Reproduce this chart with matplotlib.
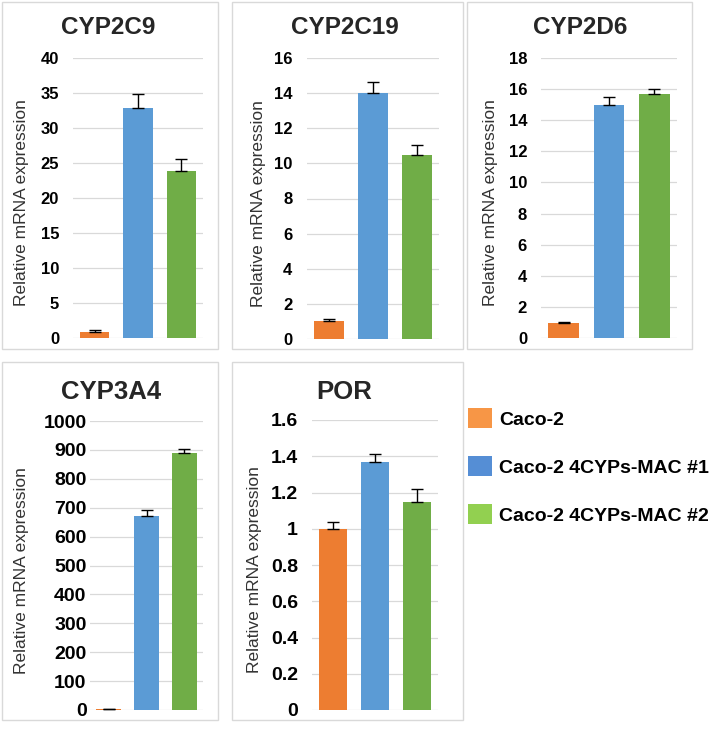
import numpy as np
import matplotlib
matplotlib.use("Agg")
import matplotlib.pyplot as plt
from matplotlib.patches import Rectangle, Patch

plt.rcParams['font.family'] = ['Liberation Sans', 'DejaVu Sans']

W, H = 709, 730

groups = ['Caco-2', 'Caco-2 4CYPs-MAC #1', 'Caco-2 4CYPs-MAC #2']
bar_colors = ['#ED7D31', '#5B9BD5', '#70AD47']
legend_colors = ['#F79646', '#558ED5', '#92D050']

genes = ['CYP2C9', 'CYP2C19', 'CYP2D6', 'CYP3A4', 'POR']
cyp2c9 = [0.85, 32.8, 23.9]
cyp2c9_err = [0.25, 2.1, 1.7]
cyp2c19 = [1.0, 14.0, 10.5]
cyp2c19_err = [0.15, 0.65, 0.55]
cyp2d6 = [0.95, 15.0, 15.7]
cyp2d6_err = [0.05, 0.5, 0.3]
cyp3a4 = [2.0, 670, 890]
cyp3a4_err = [1.0, 23, 12]
por = [1.0, 1.37, 1.15]
por_err = [0.04, 0.04, 0.07]

yticks = {
    'CYP2C9': (np.arange(0, 41, 5), [str(v) for v in range(0, 41, 5)]),
    'CYP2C19': (np.arange(0, 17, 2), [str(v) for v in range(0, 17, 2)]),
    'CYP2D6': (np.arange(0, 19, 2), [str(v) for v in range(0, 19, 2)]),
    'CYP3A4': (np.arange(0, 1001, 100), [str(v) for v in range(0, 1001, 100)]),
    'POR': (np.arange(0, 1.61, 0.2), ['0', '0.2', '0.4', '0.6', '0.8', '1', '1.2', '1.4', '1.6']),
}
values = dict(zip(genes, [cyp2c9, cyp2c19, cyp2d6, cyp3a4, por]))
errors = dict(zip(genes, [cyp2c9_err, cyp2c19_err, cyp2d6_err, cyp3a4_err, por_err]))

# pixel layout: axes (left, right, top, bottom), panel box, title pos, ylabel x,
# tick pad (pt), tick size, title size
layout = {
    'CYP2C9': ((73, 203, 58, 338), (2, 2, 218, 349), (108, 28), 22, 10, 12, 17.5),
    'CYP2C19': ((307, 439, 58, 339), (232, 2, 463, 349), (345, 28), 258, 10.5, 12, 17.5),
    'CYP2D6': ((541, 677, 58, 338), (467, 2, 692, 349), (580, 28), 490, 10, 12, 17.5),
    'CYP3A4': ((90, 203, 421, 710), (2, 362, 218, 720), (111, 392), 22, 2.5, 14, 18.5),
    'POR': ((312, 438, 420, 710), (232, 362, 463, 720), (344, 392), 255, 10, 14, 18.5),
}

fig = plt.figure(figsize=(W / 100, H / 100), dpi=100)

for g in genes:
    (l, r, t, b), (bx0, by0, bx1, by1), (tx, ty), lx, pad, tsize, hsize = layout[g]
    fig.add_artist(Rectangle((bx0 / W, 1 - by1 / H), (bx1 - bx0) / W, (by1 - by0) / H,
                             transform=fig.transFigure, fill=False,
                             edgecolor='#D9D9D9', lw=1))
    ax = fig.add_axes([l / W, 1 - b / H, (r - l) / W, (b - t) / H])
    ticks, labels = yticks[g]
    x = np.arange(len(groups))
    ax.bar(x, values[g], width=0.67, color=bar_colors, zorder=3)
    ax.errorbar(x, values[g], yerr=[[0] * 3, errors[g]], fmt='none',
                ecolor='black', elinewidth=1, capsize=4, capthick=1, zorder=4)
    ax.set_ylim(0, ticks[-1])
    ax.set_xlim(-0.5, 2.5)
    ax.set_yticks(ticks)
    ax.set_yticklabels(labels, fontsize=tsize, fontweight='bold')
    ax.set_xticks([])
    ax.tick_params(axis='y', length=0, pad=pad)
    for s in ax.spines.values():
        s.set_visible(False)
    ax.grid(axis='y', color='#D9D9D9', lw=0.9, zorder=0)
    ax.set_axisbelow(True)
    fig.text(tx / W, 1 - ty / H, g, ha='center', va='center',
             fontsize=hsize, fontweight='bold', color='#262626')
    fig.text(lx / W, 1 - (t + b) / 2 / H - 5 / H, 'Relative mRNA expression',
             rotation=90, ha='center', va='center', fontsize=12.5, color='#333333')

handles = [Patch(facecolor=c, edgecolor='none') for c in legend_colors]
fig.legend(handles, groups, loc='upper left', bbox_to_anchor=(468 / W, 1 - 408 / H),
           frameon=False, borderpad=0, borderaxespad=0,
           prop={'weight': 'bold', 'size': 14}, handlelength=1.24, handleheight=1.24,
           handletextpad=0.35, labelspacing=1.4)

plt.savefig('out.png', dpi=100)
